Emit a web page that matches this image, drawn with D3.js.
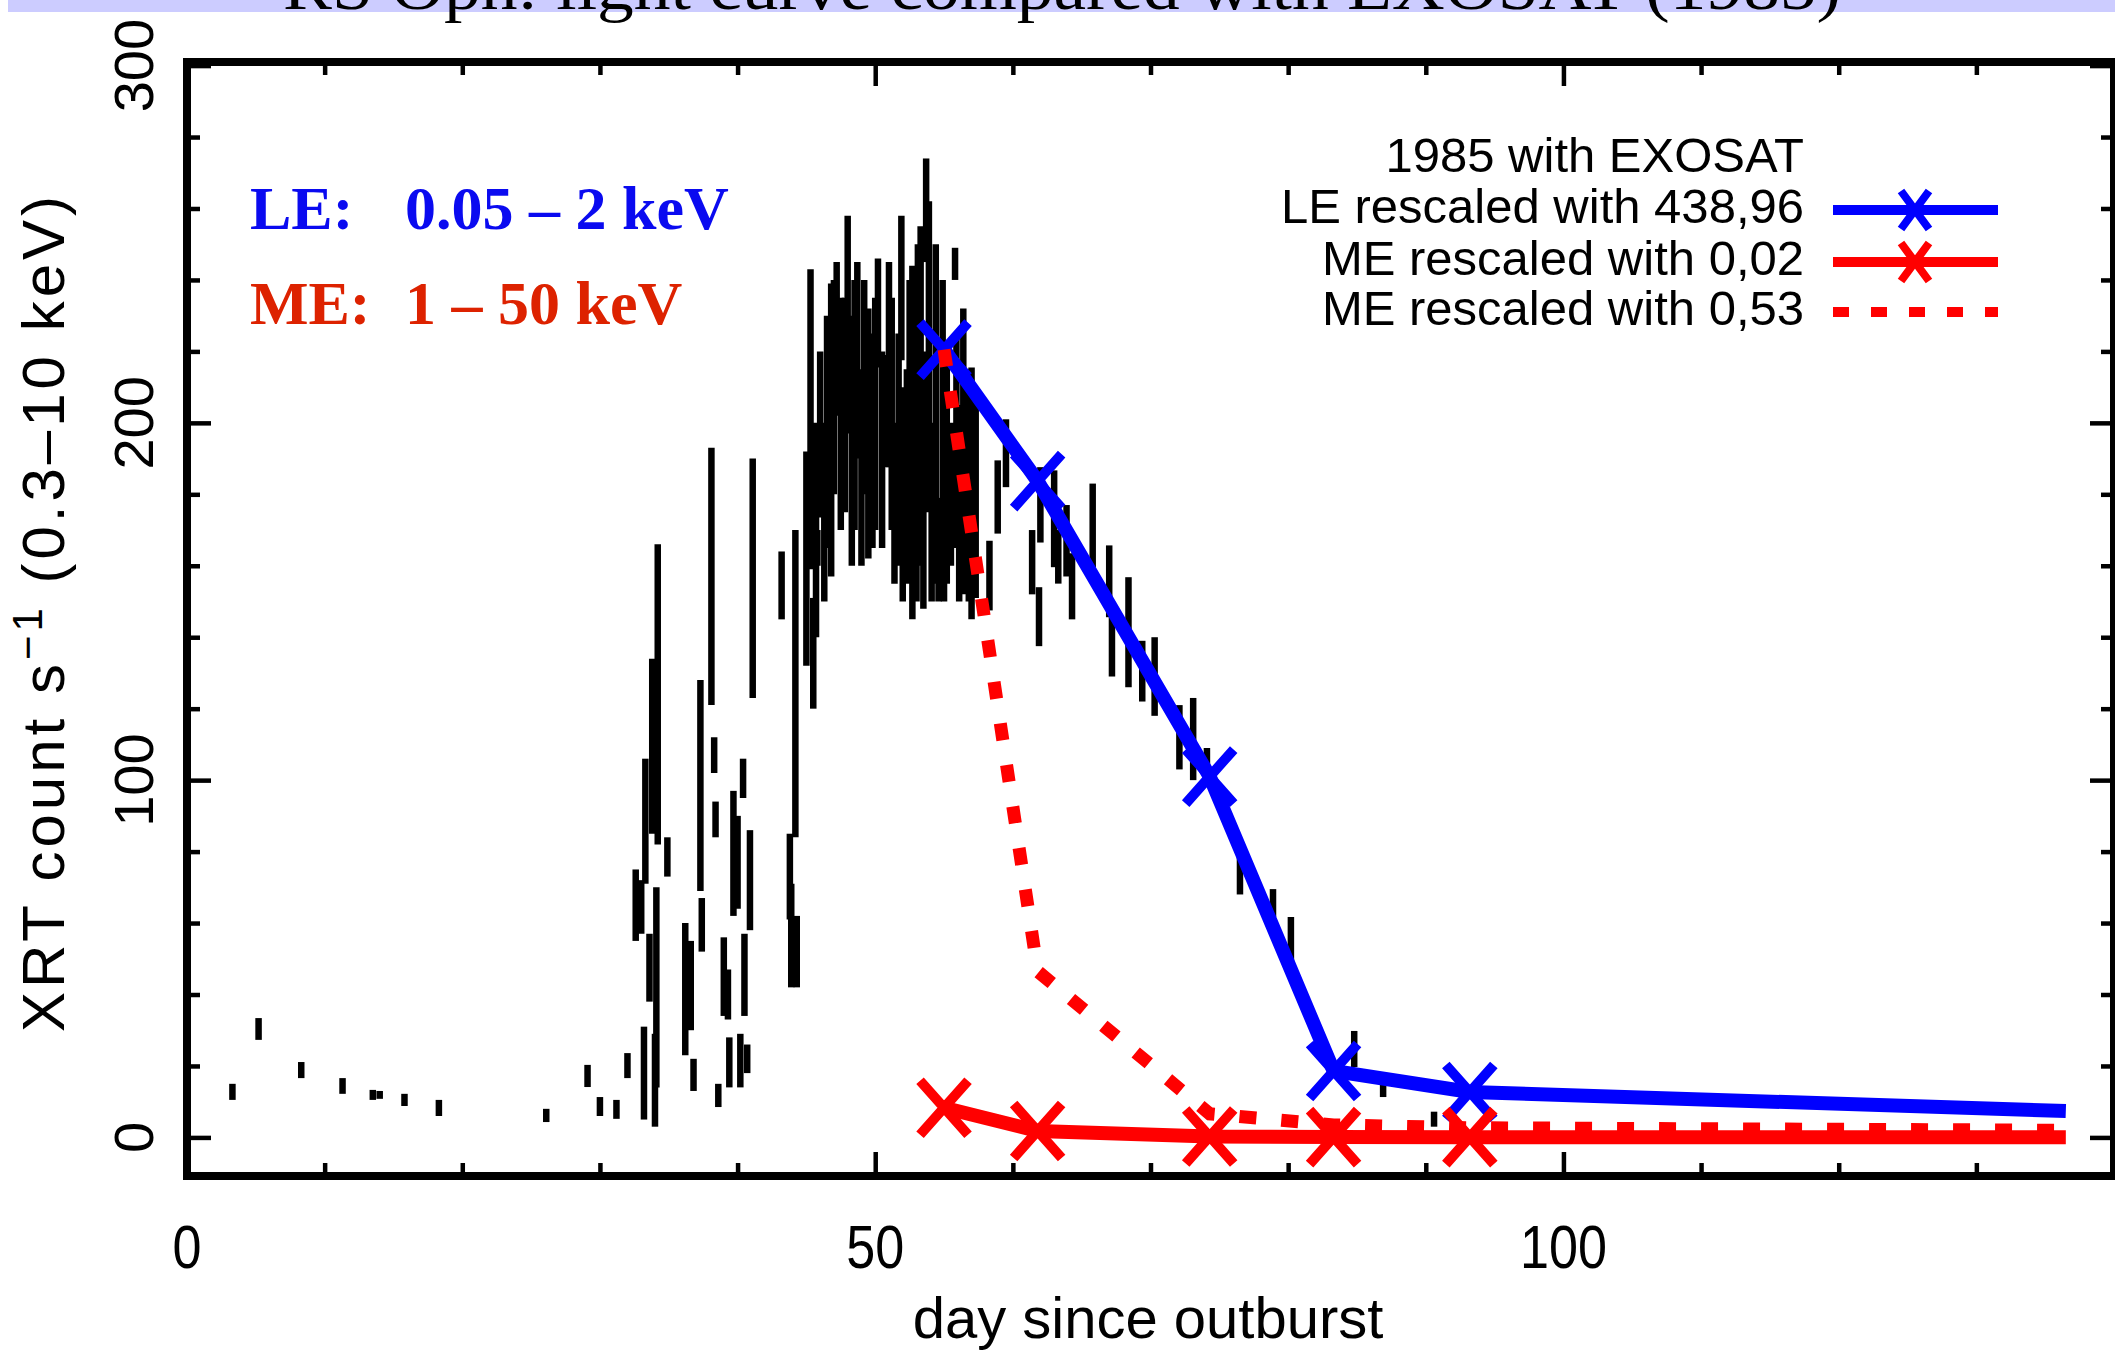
<!DOCTYPE html>
<html>
<head>
<meta charset="utf-8">
<script src="https://cdn.jsdelivr.net/npm/d3@7"></script>
<style>
  body { margin: 0; background: #fff; }
  svg { display: block; }
</style>
</head>
<body>
<script>
const width = 2115, height = 1354;

// Swift XRT light curve, one error bar each: [day, lower, upper] in count/s
const swiftBars = [
  [3.3, 10.5, 15.0], [5.2, 27.3, 33.4], [8.3, 16.6, 21.1], [11.3, 12.2, 16.6],
  [13.5, 10.5, 13.3], [14.0, 10.8, 13.0], [15.8, 8.8, 12.2], [18.3, 6.0, 10.5],
  [26.1, 4.3, 8.0], [29.1, 14.1, 20.3], [30.0, 6.0, 11.3], [31.2, 5.2, 10.5],
  [32.0, 16.6, 23.6], [32.6, 55, 75], [33.0, 57, 72], [33.2, 5, 31],
  [33.3, 71, 106], [33.6, 38, 57], [33.8, 85, 134], [34.0, 3, 29],
  [34.1, 14, 70], [34.2, 82, 166], [34.9, 73, 84],
  [36.2, 23, 60], [36.6, 30, 55], [36.8, 13, 22], [37.3, 69, 128],
  [37.4, 52, 67], [38.1, 121, 193], [38.3, 102, 112], [38.4, 84, 94],
  [38.6, 8.5, 15], [39.0, 34, 56], [39.3, 33, 47], [39.4, 14, 28],
  [39.7, 62, 97], [40.0, 64, 90], [40.2, 14, 29], [40.4, 95, 106],
  [40.5, 34, 57], [40.7, 18, 26], [40.9, 58, 86], [41.1, 123, 190],
  [43.2, 145, 164], [43.8, 61, 85], [43.9, 42, 71], [44.2, 84, 170], [44.3, 42, 62],
  [45.0, 132, 192], [45.3, 159, 243], [45.5, 120, 151], [45.7, 140, 200],
  [45.8, 160, 170], [46.0, 173.5, 220], [46.3, 150, 200], [46.5, 165, 230],
  [46.8, 157, 239], [47.0, 180, 240], [47.2, 202, 245], [47.5, 170, 235],
  [47.8, 175, 235], [48.0, 197, 258], [48.3, 160, 230], [48.5, 170, 240],
  [48.7, 190, 245], [49.0, 160, 215], [49.2, 180, 240], [49.5, 162, 232],
  [49.8, 165, 225], [50.0, 170, 235], [50.2, 215.5, 246], [50.5, 165, 220],
  [50.8, 187.6, 219], [51.0, 187.6, 245], [51.2, 170, 235], [51.4, 155, 200],
  [51.7, 160, 225], [51.9, 217.5, 258], [52.0, 150, 210],
  [52.3, 155, 215], [52.5, 175, 240], [52.7, 145, 244], [53.0, 150, 230],
  [53.1, 170, 250], [53.3, 160, 255], [53.5, 148, 220], [53.7, 245, 274],
  [53.9, 175, 262], [54.1, 150, 200], [54.4, 155, 250], [54.6, 150, 179],
  [54.9, 165, 240], [55.0, 150, 190], [55.2, 155, 216], [55.5, 160, 200],
  [55.8, 240, 249], [55.9, 165, 225], [56.1, 150, 205], [56.4, 152, 232],
  [56.6, 155, 215], [56.8, 150, 210], [57.0, 145, 215.5], [57.2, 160, 200],
  [57.3, 151, 209],
  [58.3, 147.5, 167], [58.9, 169, 189.5], [59.5, 182, 201],
  [61.4, 152, 170], [61.9, 137.5, 154], [62.0, 166.5, 187.6], [63.0, 159.6, 186.7],
  [63.3, 155, 170], [63.9, 157, 177], [64.3, 145, 163.5], [65.8, 159.6, 183],
  [67.0, 145.6, 165.7], [67.2, 129, 146.6], [68.4, 126, 156.8], [69.4, 122, 139],
  [70.3, 118, 140], [72.1, 103, 121], [73.1, 100, 123], [74.1, 100, 109],
  [76.5, 68, 80.4], [78.9, 61.7, 69.5], [80.2, 48.8, 61.7],
  [84.8, 19.7, 29.8], [86.9, 11.3, 15.2], [90.6, 3, 7.2]
];

// EXOSAT 1985 curves, rescaled
const exoDays = [55.0, 61.8, 74.3, 83.3, 93.2, 136.5];
const leRate = [220.5, 183.7, 101, 18.6, 12.7, 7.4];      // LE x 438.96
const meRate = [8.3, 1.8, 0.25, 0.1, 0.08, 0.05];         // ME x 0.02
const meRateBig = [220.5, 46.5, 6.6, 3.5, 2.7, 2.0];      // ME x 0.53
const markedPoints = 5; // the last point carries no marker

const xTicks = d3.range(0, 141, 10);
const yTicks = d3.range(0, 301, 20);
const xLabels = [0, 50, 100];
const yLabels = [0, 100, 200, 300];

const legendRows = [
  { row: 0, label: "1985 with EXOSAT", kind: "none" },
  { row: 1, label: "LE rescaled with 438,96", kind: "le" },
  { row: 2, label: "ME rescaled with 0,02", kind: "me" },
  { row: 3, label: "ME rescaled with 0,53", kind: "dot" }
];
const legRowY = [172, 223, 275, 325];

const BLUE = "#0000ff", RED = "#ff0000";

const svg = d3.select("body").append("svg")
    .attr("width", width)
    .attr("height", height);

svg.append("rect").attr("width", width).attr("height", height).attr("fill", "#fff");

// title strip, almost all cut off at the top
svg.append("rect")
    .attr("x", 8).attr("y", 0)
    .attr("width", width - 8).attr("height", 12)
    .attr("fill", "#ccccff");
svg.append("text")
    .attr("x", 283).attr("y", 9)
    .attr("textLength", 1558)
    .attr("lengthAdjust", "spacingAndGlyphs")
    .style("font-family", "'Liberation Serif', 'DejaVu Serif', serif")
    .style("font-size", "66px")
    .text("RS Oph: light curve compared with EXOSAT (1985)");

const x = d3.scaleLinear().domain([0, 140]).range([187, 2114]);
const y = d3.scaleLinear().domain([-10.8, 301]).range([1176, 62]);

const [x0, x1] = x.range();
const [yB, yT] = y.range();

// ticks on all four sides, pointing inwards
const minorLen = 13, majorLen = 24;
function tickLen(v, step) { return v % step === 0 ? majorLen : minorLen; }

function styleAxis(g) {
  g.select(".domain").remove();
  g.selectAll(".tick text").remove();
  g.selectAll(".tick line")
      .attr("stroke", "#000")
      .attr("stroke-width", 4.5);
}

const axB = svg.append("g").attr("transform", `translate(0,${yB})`)
    .call(d3.axisBottom(x).tickValues(xTicks).tickSizeOuter(0));
axB.selectAll(".tick line").attr("y2", d => -tickLen(d, 50));
styleAxis(axB);

const axT = svg.append("g").attr("transform", `translate(0,${yT})`)
    .call(d3.axisTop(x).tickValues(xTicks).tickSizeOuter(0));
axT.selectAll(".tick line").attr("y2", d => tickLen(d, 50));
styleAxis(axT);

const axL = svg.append("g").attr("transform", `translate(${x0},0)`)
    .call(d3.axisLeft(y).tickValues(yTicks).tickSizeOuter(0));
axL.selectAll(".tick line").attr("x2", d => tickLen(d, 100));
styleAxis(axL);

const axR = svg.append("g").attr("transform", `translate(${x1},0)`)
    .call(d3.axisRight(y).tickValues(yTicks).tickSizeOuter(0));
axR.selectAll(".tick line").attr("x2", d => -tickLen(d, 100));
styleAxis(axR);

// tick labels
const labelFont = "'Liberation Sans', 'DejaVu Sans', Arial, sans-serif";

svg.append("g").selectAll("text")
    .data(xLabels)
    .join("text")
    .attr("x", d => x(d))
    .attr("y", 1268)
    .attr("text-anchor", "middle")
    .attr("textLength", d => String(d).length * 29)
    .attr("lengthAdjust", "spacingAndGlyphs")
    .style("font-family", labelFont)
    .style("font-size", "62px")
    .text(d => d);

svg.append("g").selectAll("text")
    .data(yLabels)
    .join("text")
    .attr("transform", d => `translate(153,${y(d)}) rotate(-90)`)
    .attr("text-anchor", "middle")
    .style("font-family", labelFont)
    .style("font-size", "56px")
    .text(d => d);

// axis titles
svg.append("text")
    .attr("x", 1148).attr("y", 1338)
    .attr("text-anchor", "middle")
    .style("font-family", labelFont)
    .style("font-size", "58px")
    .text("day since outburst");

const yTitle = svg.append("text")
    .attr("transform", "translate(64,612) rotate(-90)")
    .attr("text-anchor", "middle")
    .style("font-family", labelFont)
    .style("font-size", "60px")
    .style("letter-spacing", "4px");
yTitle.append("tspan").text("XRT count s");
yTitle.append("tspan").attr("dy", -22).style("font-size", "42px").text("\u22121");
yTitle.append("tspan").attr("dy", 22).text(" (0.3\u201310 keV)");

// Swift error bars
svg.append("g")
    .selectAll("line")
    .data(swiftBars)
    .join("line")
    .attr("x1", d => x(d[0])).attr("x2", d => x(d[0]))
    .attr("y1", d => y(d[1])).attr("y2", d => y(d[2]))
    .attr("stroke", "#000")
    .attr("stroke-width", 6.5);

// EXOSAT curves
const line = d3.line().x(d => x(d[0])).y(d => y(d[1]));
const lePts = exoDays.map((d, i) => [d, leRate[i]]);
const mePts = exoDays.map((d, i) => [d, meRate[i]]);
const meBigPts = exoDays.map((d, i) => [d, meRateBig[i]]);

function cross(w, h) {
  return `M${-w / 2},${-h / 2}L${w / 2},${h / 2}M${-w / 2},${h / 2}L${w / 2},${-h / 2}`;
}

function drawCurve(pts, color, dashed) {
  const p = svg.append("path")
      .datum(pts)
      .attr("d", line)
      .attr("fill", "none")
      .attr("stroke", color)
      .attr("stroke-width", dashed ? 13 : 14);
  if (dashed) p.attr("stroke-dasharray", "17 25");
  else {
    svg.append("g").selectAll("path")
        .data(pts.slice(0, markedPoints))
        .join("path")
        .attr("transform", d => `translate(${x(d[0])},${y(d[1])})`)
        .attr("d", cross(48, 54))
        .attr("stroke", color)
        .attr("stroke-width", 10)
        .attr("fill", "none");
  }
}

drawCurve(lePts, BLUE, false);
drawCurve(mePts, RED, false);
drawCurve(meBigPts, RED, true);

// band annotations
const serif = "'Liberation Serif', 'DejaVu Serif', serif";
const bands = [
  { name: "LE:", range: "0.05 \u2013 2 keV", color: "#0a0af0", y: 229 },
  { name: "ME:", range: "1 \u2013 50 keV", color: "#dd2200", y: 324 }
];
const bandG = svg.append("g").selectAll("g").data(bands).join("g")
    .style("font-family", serif)
    .style("font-weight", "bold")
    .style("font-size", "62px")
    .attr("fill", d => d.color);
bandG.append("text").attr("x", 250).attr("y", d => d.y).text(d => d.name);
bandG.append("text").attr("x", 405).attr("y", d => d.y).text(d => d.range);

// legend
const leg = svg.append("g").selectAll("g").data(legendRows).join("g");
leg.append("text")
    .attr("x", 1804)
    .attr("y", d => legRowY[d.row])
    .attr("text-anchor", "end")
    .style("font-family", labelFont)
    .style("font-size", "49px")
    .text(d => d.label);

leg.filter(d => d.kind !== "none").append("line")
    .attr("x1", 1833).attr("x2", 1998)
    .attr("y1", d => legRowY[d.row] - 13)
    .attr("y2", d => legRowY[d.row] - 13)
    .attr("stroke", d => d.kind === "le" ? BLUE : RED)
    .attr("stroke-width", 10)
    .attr("stroke-dasharray", d => d.kind === "dot" ? "16 22" : null);

leg.filter(d => d.kind === "le" || d.kind === "me").append("path")
    .attr("transform", d => `translate(1915,${legRowY[d.row] - 13})`)
    .attr("d", cross(28, 38))
    .attr("stroke", d => d.kind === "le" ? BLUE : RED)
    .attr("stroke-width", 8)
    .attr("fill", "none");

// frame
svg.append("rect")
    .attr("x", x0).attr("y", yT)
    .attr("width", x1 - x0).attr("height", yB - yT)
    .attr("fill", "none")
    .attr("stroke", "#000")
    .attr("stroke-width", 8);
</script>
</body>
</html>
